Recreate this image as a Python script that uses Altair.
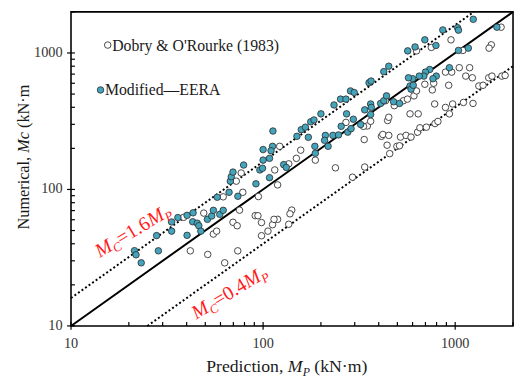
import altair as alt
import pandas as pd

# ---------------- data ----------------
eera_x = [21.4, 21.8, 23.2, 27.9, 28.5, 33.4, 33.4, 36.0, 40.2, 43.2, 40.2, 43.0, 45.4, 46.3, 47.4,
          51.3, 54.0, 55.1, 59.5, 62.0, 57.7, 66.5, 73.9, 67.5, 68.3, 69.7, 79.2, 91.8, 96.2, 99.3,
          108, 100, 108, 100, 112, 110, 112.5, 128, 132, 150, 158, 166, 177, 184, 172, 186, 187, 200,
          234, 253, 270, 285, 298, 356, 365, 425, 451, 211, 209, 218, 231, 247, 255, 276, 287, 272,
          295, 322, 338, 363, 363, 366, 409, 425, 439, 478, 513, 566, 618, 695, 794, 862, 1029, 1040,
          1242, 1648, 1040, 1171, 933, 797, 766, 737, 700, 687, 650, 600, 571, 582, 589, 605]
eera_y = [35.6, 33.2, 29.0, 45.9, 35.5, 49.5, 57.8, 62.2, 64.6, 67.4, 46.1, 58.0, 56.6, 54.2, 49.5,
          60.4, 63.9, 70.3, 65.7, 70.3, 87.7, 95.3, 89.1, 115, 124, 134, 151, 110, 139, 143,
          122, 164, 169, 196, 207, 192, 268, 152, 145, 245, 274, 286, 313, 323, 241, 207, 184, 358,
          416, 459, 459, 527, 513, 606, 623, 730, 800, 249, 229, 207, 249, 251, 290, 263, 279, 358,
          327, 299, 383, 354, 423, 399, 427, 447, 485, 439, 427, 1036, 1107, 1248, 1135, 1475, 1532, 1470,
          1766, 1545, 1044, 1085, 780, 677, 648, 757, 724, 677, 677, 648, 658, 573, 543, 580]

dobry_x = [38.6, 49.1, 55.1, 57.3, 41.8, 51.5, 63.1, 73.8, 69.7, 73.3, 98.1, 98.1, 106, 112, 119,
           114, 91.0, 94.0, 75.4, 62.0, 78.4, 94.5, 72.5, 76.9, 119, 115, 122, 136, 149, 157, 187,
           141, 138, 136, 238, 292, 338, 456, 497, 513, 413, 420, 451, 519, 555, 589, 637, 655, 708,
           785, 813, 336, 270, 349, 445, 363, 333, 482, 538, 564, 610, 629, 695, 760, 773, 925, 890,
           959, 1050, 1189, 1135, 1228, 782, 890, 970, 1104, 1238, 933, 582, 642, 451, 442, 434,
           1328, 1397, 1495, 1554, 1749, 1819, 1734, 1542, 1501, 1097, 951, 751, 629]
dobry_y = [62.5, 67.1, 47.1, 49.5, 35.5, 33.4, 29.0, 35.5, 57.5, 54.2, 57.2, 45.8, 49.5, 55.2, 60.4,
           60.4, 64.3, 64.2, 70.5, 88.3, 95.3, 88.7, 115, 132, 108, 139, 207, 154, 169, 194, 164,
           70.6, 66.3, 55.6, 144, 123, 146, 183, 207, 209, 245, 253, 249, 242, 249, 242, 263, 283, 286,
           304, 315, 232, 310, 292, 320, 316, 290, 411, 447, 459, 485, 527, 590, 536, 600, 580, 724,
           724, 780, 780, 677, 658, 423, 399, 423, 434, 427, 358, 358, 358, 338, 211, 447,
           573, 580, 658, 677, 677, 685, 1545, 1148, 1085, 1044, 1248, 1098, 1036]

series_names = ["Dobry & O'Rourke (1983)", "Modified\u2014EERA"]
ratios = [1.0, 1.6, 0.4]
ratio_labels = ["1.6", "0.4"]
ann_x = [14.1, 44.9]          # data position of the start of each red label
ann_y = [31.4, 11.1]
domain = [10, 2000]
major_ticks = [10, 100, 1000]
tick_labels = ["10", "100", "1000"]
minor_ticks = [20, 30, 40, 50, 60, 70, 80, 90, 200, 300, 400, 500, 600, 700, 800, 900, 2000]

# ---------------- layout / style ----------------
W, H = 449, 319
FONT = "Liberation Serif"
TEAL = "#44A4BB"
TXT = "#1a1a1a"
PT = 44

xs = alt.Scale(type="log", domain=domain, nice=False)
ys = alt.Scale(type="log", domain=domain, nice=False)
X = lambda f: alt.X(f, scale=xs, axis=None)
Y = lambda f: alt.Y(f, scale=ys, axis=None)

# Times / Liberation Serif advance widths (per 1000 em)
REG = {' ': 250, '(': 333, ')': 333, ',': 250, '.': 250, '\u00b7': 250, '=': 564, 'N': 722, 'P': 556,
       'a': 444, 'c': 444, 'd': 500, 'e': 444, 'i': 278, 'k': 500, 'l': 278, 'm': 778, 'n': 500,
       'o': 500, 'r': 333, 't': 278, 'u': 500}
ITA = {'M': 833, 'C': 667, 'P': 611, 'c': 444}


def tw(s, italic, size):
    tab = ITA if italic else REG
    return sum((tab.get(ch, 500)) for ch in s) * size / 1000.0


def layout(pieces):
    out, off = [], 0.0
    for text, italic, size, dy in pieces:
        lead = len(text) - len(text.lstrip(' '))
        out.append((text.strip(' '), italic, size, off + tw(' ' * lead, italic, size), dy))
        off += tw(text, italic, size)
    return out


def rich_px(pieces, px, py, angle, color):
    layers = []
    for text, italic, size, dx, dy in layout(pieces):
        kw = dict(align="left", baseline="alphabetic", font=FONT, fontSize=size, color=color,
                  dx=dx, dy=dy, angle=angle)
        if italic:
            kw["fontStyle"] = "italic"
        layers.append(alt.Chart(pd.DataFrame({"t": [text]})).mark_text(**kw).encode(
            x=alt.value(px), y=alt.value(py), text="t:N"))
    return layers


# ---------------- reference lines ----------------
line_rows = []
for r in ratios:
    x0 = max(domain[0], domain[0] / r)
    x1 = min(domain[1], domain[1] / r)
    line_rows += [dict(r=str(r), x=x0, y=x0 * r), dict(r=str(r), x=x1, y=x1 * r)]
lines = pd.DataFrame(line_rows)

solid = alt.Chart(lines[lines.r == "1.0"]).mark_line(color="black", strokeWidth=2).encode(
    x=X("x:Q"), y=Y("y:Q"), detail="r:N")
dotted = alt.Chart(lines[lines.r != "1.0"]).mark_line(
    color="black", strokeWidth=2, strokeDash=[2, 2.4]).encode(x=X("x:Q"), y=Y("y:Q"), detail="r:N")

# ---------------- points ----------------
open_pts = alt.Chart(pd.DataFrame({"x": dobry_x, "y": dobry_y, "s": series_names[0]})).mark_circle(
    fill="white", stroke="#333333", strokeWidth=0.9, size=PT, opacity=1).encode(x=X("x:Q"), y=Y("y:Q"))
teal_pts = alt.Chart(pd.DataFrame({"x": eera_x, "y": eera_y, "s": series_names[1]})).mark_circle(
    fill=TEAL, stroke="#2a2a2a", strokeWidth=0.8, size=PT, opacity=1).encode(x=X("x:Q"), y=Y("y:Q"))

# ---------------- ticks & labels ----------------
maj = pd.DataFrame({"v": major_ticks, "t": tick_labels})
mino = pd.DataFrame({"v": minor_ticks})
tick_style = dict(color="black", strokeWidth=1.2)
xmaj = alt.Chart(maj).mark_rule(**tick_style).encode(x=X("v:Q"), y=alt.value(H - 4), y2=alt.value(H + 4))
xmin = alt.Chart(mino).mark_rule(**tick_style).encode(x=X("v:Q"), y=alt.value(H - 4), y2=alt.value(H))
ymaj = alt.Chart(maj).mark_rule(**tick_style).encode(y=Y("v:Q"), x=alt.value(-4), x2=alt.value(4))
ymin = alt.Chart(mino).mark_rule(**tick_style).encode(y=Y("v:Q"), x=alt.value(0), x2=alt.value(4))

xlab = alt.Chart(maj).mark_text(align="center", baseline="alphabetic", font=FONT, fontSize=14.5,
                                color="#333333").encode(x=X("v:Q"), y=alt.value(H + 22.5), text="t:N")
ylab = alt.Chart(maj).mark_text(align="right", baseline="middle", font=FONT, fontSize=14.5,
                                color="#333333").encode(y=Y("v:Q"), x=alt.value(-8.5), text="t:N")

# ---------------- axis titles ----------------
xtitle = rich_px([("Prediction, ", False, 18, 0), ("M", True, 18, 0), ("P", True, 12, 4),
                  (" (kN\u00b7m)", False, 18, 0)], 137.3, H + 46.5, 0, TXT)
ytitle = rich_px([("Numerical, ", False, 16.5, 0), ("Mc", True, 16.5, 0), (" (kN\u00b7m", False, 16.5, 0)],
                 -42.5, 221, 270, TXT)

# ---------------- legend ----------------
leg = []
leg.append(alt.Chart(pd.DataFrame({"s": [series_names[0]]})).mark_circle(
    fill="white", stroke="#333333", strokeWidth=0.9, size=PT, opacity=1).encode(
    x=alt.value(37.3), y=alt.value(33.7)))
leg.append(alt.Chart(pd.DataFrame({"s": [series_names[0]]})).mark_text(
    align="left", baseline="middle", font=FONT, fontSize=16, color=TXT).encode(
    x=alt.value(41.8), y=alt.value(34.5), text="s:N"))
leg.append(alt.Chart(pd.DataFrame({"s": [series_names[1]]})).mark_circle(
    fill=TEAL, stroke="#2a2a2a", strokeWidth=0.8, size=PT, opacity=1).encode(
    x=alt.value(30), y=alt.value(79.3)))
leg.append(alt.Chart(pd.DataFrame({"s": [series_names[1]]})).mark_text(
    align="left", baseline="middle", font=FONT, fontSize=16, color=TXT).encode(
    x=alt.value(34.5), y=alt.value(79.8), text="s:N"))

# ---------------- red annotations (rich text along the lines) ----------------
ann = pd.DataFrame({"x": ann_x, "y": ann_y, "r": ["=" + s for s in ratio_labels]})
ANG = 329
ann_layers = []
for text, italic, size, dx, dy in layout([("M", True, 20, 0), ("C", True, 13, 4),
                                          ("=1.6", False, 20, 0), ("M", True, 20, 0), ("P", True, 13, 4)]):
    kw = dict(align="left", baseline="alphabetic", font=FONT, fontSize=size, color="#ff1a1a",
              dx=dx, dy=dy, angle=ANG)
    if italic:
        kw["fontStyle"] = "italic"
    enc = dict(x=X("x:Q"), y=Y("y:Q"))
    if text.startswith("="):
        enc["text"] = "r:N"
    else:
        kw["text"] = text
    ann_layers.append(alt.Chart(ann).mark_text(**kw).encode(**enc))

chart = alt.layer(
    solid, dotted, open_pts, teal_pts, xmaj, xmin, ymaj, ymin, xlab, ylab,
    *xtitle, *ytitle, *leg, *ann_layers
).properties(
    width=W, height=H,
    autosize=alt.AutoSizeParams(type="none"),
    padding={"left": 64, "top": 1, "right": 1, "bottom": 54},
    background="white",
).configure_view(stroke="black", strokeWidth=1.6)

chart.save("out.html", embed_options={"renderer": "svg", "actions": False})
